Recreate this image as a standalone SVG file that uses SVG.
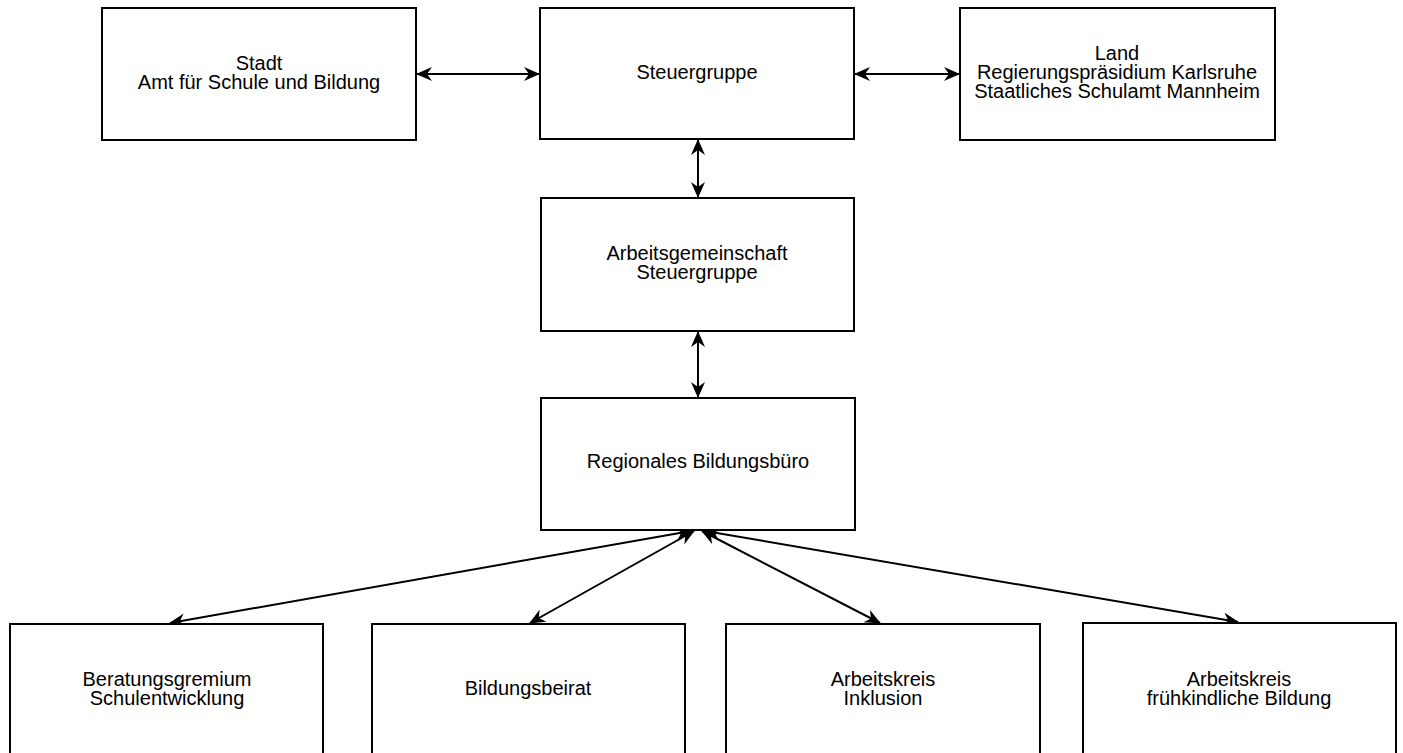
<svg xmlns="http://www.w3.org/2000/svg" width="1403" height="753" viewBox="0 0 1403 753">
<style>
.box{fill:#fff;stroke:#000;stroke-width:2}
.t{font-family:"Liberation Sans",Arial,sans-serif;font-size:20px;fill:#000;text-anchor:middle}
.c{stroke:#000;stroke-width:2;fill:none;marker-start:url(#ah);marker-end:url(#ah)}
</style>
<defs>
<marker id="ah" viewBox="0 0 16 14" refX="15" refY="7" markerWidth="16" markerHeight="14" markerUnits="userSpaceOnUse" orient="auto-start-reverse">
<path d="M0,0 L16,7 L0,14 L5,7 Z" fill="#000"/>
</marker>
</defs>
<rect width="1403" height="753" fill="#fff"/>
<g id="connectors">
<line class="c" x1="417" y1="74" x2="539" y2="74"/>
<line class="c" x1="855" y1="74" x2="959" y2="74"/>
<line class="c" x1="698" y1="140" x2="698" y2="197"/>
<line class="c" x1="698" y1="332" x2="698" y2="397"/>
<line class="c" x1="691" y1="531" x2="170" y2="623"/>
<line class="c" x1="694" y1="531" x2="530" y2="623"/>
<line class="c" x1="702" y1="531" x2="880" y2="623"/>
<line class="c" x1="705" y1="531" x2="1238" y2="622"/>
</g>
<g id="stadt">
<rect class="box" x="102" y="8" width="314" height="132"/>
<text class="t" x="259" y="69.5">Stadt</text>
<text class="t" x="259" y="88.5">Amt für Schule und Bildung</text>
</g>
<g id="steuergruppe">
<rect class="box" x="540" y="8" width="314" height="131"/>
<text class="t" x="697" y="79">Steuergruppe</text>
</g>
<g id="land">
<rect class="box" x="960" y="8" width="315" height="132"/>
<text class="t" x="1117" y="60">Land</text>
<text class="t" x="1117" y="79">Regierungspräsidium Karlsruhe</text>
<text class="t" x="1117" y="98">Staatliches Schulamt Mannheim</text>
</g>
<g id="arge">
<rect class="box" x="541" y="198" width="313" height="133"/>
<text class="t" x="697" y="259.5">Arbeitsgemeinschaft</text>
<text class="t" x="697" y="278.5">Steuergruppe</text>
</g>
<g id="rbb">
<rect class="box" x="541" y="398" width="314" height="132"/>
<text class="t" x="698" y="468">Regionales Bildungsbüro</text>
</g>
<g id="beratung">
<rect class="box" x="10" y="624" width="313" height="132"/>
<text class="t" x="167" y="685.5">Beratungsgremium</text>
<text class="t" x="167" y="704.5">Schulentwicklung</text>
</g>
<g id="beirat">
<rect class="box" x="372" y="624" width="313" height="132"/>
<text class="t" x="528" y="695">Bildungsbeirat</text>
</g>
<g id="inklusion">
<rect class="box" x="726" y="624" width="314" height="132"/>
<text class="t" x="883" y="685.5">Arbeitskreis</text>
<text class="t" x="883" y="704.5">Inklusion</text>
</g>
<g id="fruehkindlich">
<rect class="box" x="1083" y="623" width="313" height="133"/>
<text class="t" x="1239" y="685.5">Arbeitskreis</text>
<text class="t" x="1239" y="704.5">frühkindliche Bildung</text>
</g>
</svg>
